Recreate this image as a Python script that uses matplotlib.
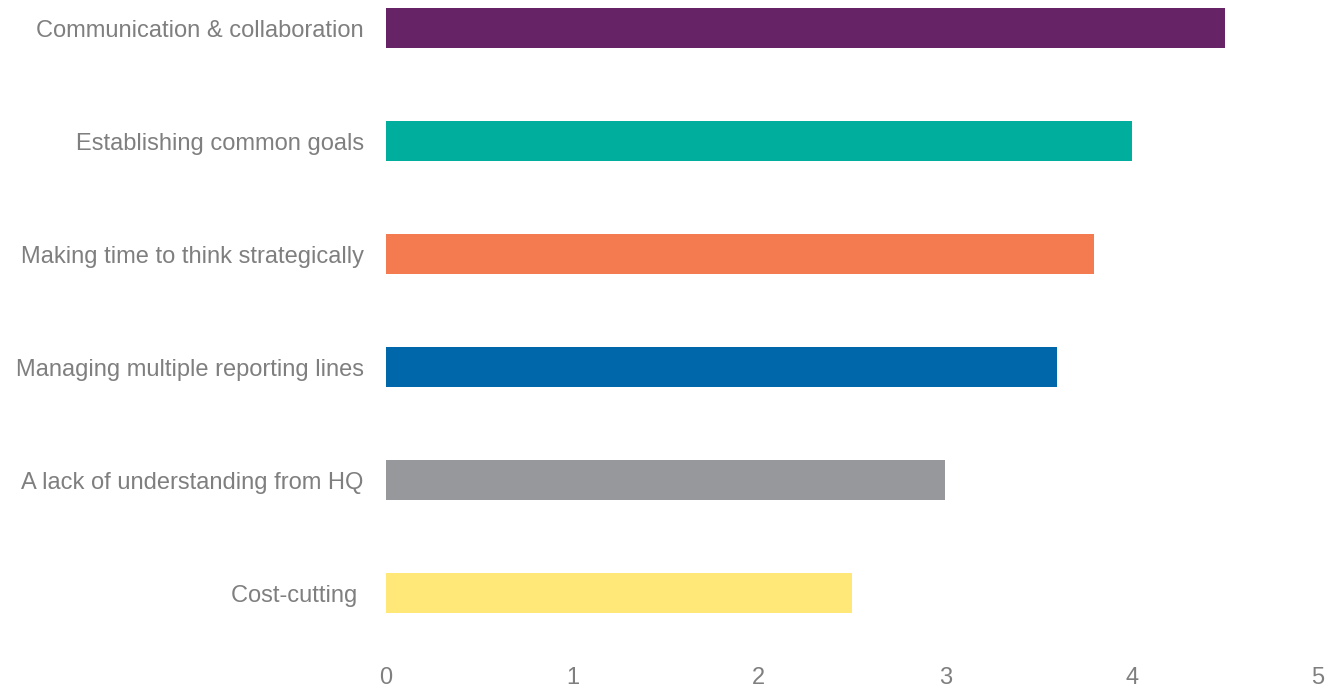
import matplotlib.pyplot as plt

plt.rcParams['font.family'] = ['Liberation Sans', 'DejaVu Sans']

categories = ["Cost-cutting ", "A lack of understanding from HQ",
              "Managing multiple reporting lines", "Making time to think strategically",
              "Establishing common goals", "Communication & collaboration"]
values = [2.5, 3.0, 3.6, 3.8, 4.0, 4.5]
colors = ["#ffe878", "#97989b", "#0068aa", "#f47b4f", "#00ae9e", "#662366"]

fig = plt.figure(figsize=(13.28, 6.88), dpi=100)
ax = fig.add_axes([386 / 1328, 1 - 650 / 688, 932 / 1328, 650 / 688])

ax.barh(range(len(categories)), values, height=0.354, color=colors)
ax.set_yticks(range(len(categories)))
ax.set_yticklabels(categories)
ax.set_xlim(0, 5)
ax.set_ylim(-0.5, 5.248)
ax.set_xticks([0, 1, 2, 3, 4, 5])

for s in ax.spines.values():
    s.set_visible(False)
ax.tick_params(axis='both', length=0, labelsize=17, labelcolor='#7f7f7f')
ax.tick_params(axis='y', pad=16)
ax.tick_params(axis='x', pad=12)

fig.savefig("out.png", dpi=100)
